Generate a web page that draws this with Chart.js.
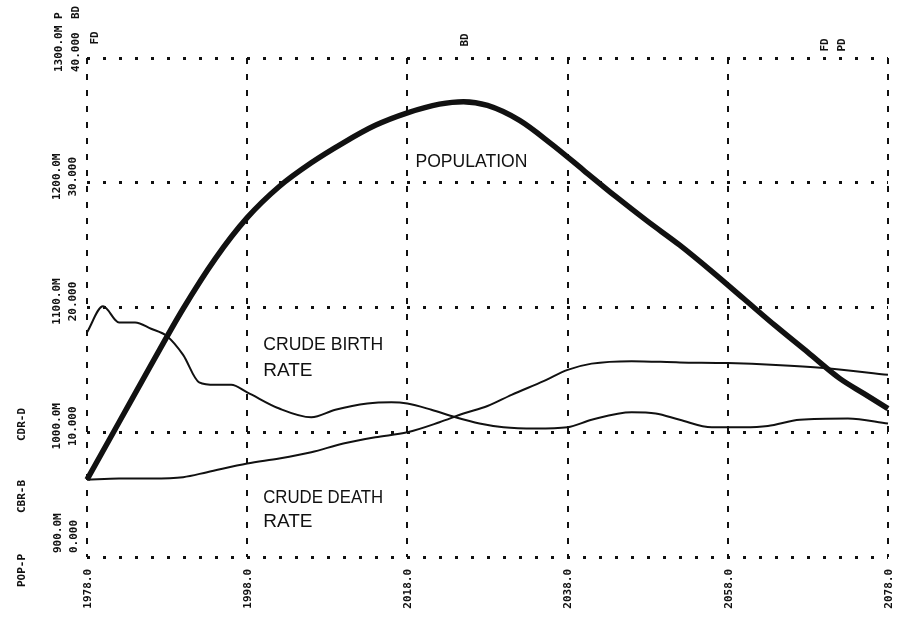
<!DOCTYPE html>
<html>
<head>
<meta charset="utf-8">
<script src="https://cdn.jsdelivr.net/npm/chart.js@4.4.1/dist/chart.umd.min.js"></script>
<style>
  html, body { margin: 0; padding: 0; background: #fff; }
  #wrap { width: 907px; height: 624px; }
</style>
</head>
<body>
<div id="wrap"><canvas id="chart" width="907" height="624"></canvas></div>
<script>
// ticks
const yearTicks = [1978, 1998, 2018, 2038, 2058, 2078];
const popTicks = [900, 1000, 1100, 1200, 1300];
const rateTicks = [0, 10, 20, 30, 40];
const yearLabels = ["1978.0", "1998.0", "2018.0", "2038.0", "2058.0", "2078.0"];
const popLabels = ["900.0M", "1000.0M", "1100.0M", "1200.0M", "1300.0M P"];
const rateLabels = ["0.000", "10.000", "20.000", "30.000", "40.000  BD"];

// population (millions)
const popYears = [1978, 1982, 1986, 1990, 1994, 1998, 2002, 2006, 2010, 2014, 2018, 2022,
    2025, 2028, 2032, 2036, 2040, 2044, 2048, 2052, 2056, 2060, 2064, 2068, 2072, 2075, 2078];
const popValues = [962, 1008, 1054, 1099, 1139, 1172, 1197, 1216, 1232, 1246, 1256, 1263,
    1265, 1262, 1250, 1231, 1210, 1189, 1169, 1150, 1129, 1107, 1085, 1064, 1043, 1031, 1019];

// crude birth rate (per 1000)
const cbrYears = [1978, 1980, 1982, 1984, 1986, 1988, 1990, 1992, 1994, 1996, 1998, 2002,
    2006, 2009, 2013, 2016, 2018, 2021, 2024, 2027, 2030, 2034, 2038, 2041, 2046, 2049,
    2052, 2056, 2060, 2063, 2067, 2073, 2078];
const cbrValues = [18.0, 20.1, 18.8, 18.8, 18.3, 17.7, 16.2, 14.0, 13.8, 13.8, 13.2, 11.9,
    11.2, 11.8, 12.3, 12.4, 12.3, 11.8, 11.2, 10.7, 10.4, 10.3, 10.4, 11.0, 11.6, 11.5,
    11.0, 10.4, 10.4, 10.5, 11.0, 11.1, 10.7];

// crude death rate (per 1000)
const cdrYears = [1978, 1982, 1986, 1990, 1993, 1998, 2002, 2006, 2010, 2014, 2018, 2022,
    2025, 2028, 2031, 2035, 2038, 2041, 2046, 2052, 2058, 2064, 2070, 2078];
const cdrValues = [6.2, 6.3, 6.3, 6.4, 6.8, 7.5, 7.9, 8.4, 9.1, 9.6, 10.0, 10.8,
    11.5, 12.1, 13.0, 14.1, 15.0, 15.5, 15.7, 15.6, 15.55, 15.4, 15.15, 14.6];

// hand-written notes (year, rate value)
const notes = [
    { text: "POPULATION", x: 2019, y: 31.3, w: 112 },
    { text: "CRUDE BIRTH", x: 2000, y: 16.6, w: 120 },
    { text: "RATE", x: 2000, y: 14.5, w: 50 },
    { text: "CRUDE DEATH", x: 2000, y: 4.3, w: 120 },
    { text: "RATE", x: 2000, y: 2.4, w: 50 },
];

const toPoints = (xs, ys) => xs.map((x, i) => ({ x: x, y: ys[i] }));
const ink = "#111";
const mono = "bold 11px 'DejaVu Sans Mono'";

const textPlugin = {
    id: "printerText",
    afterDraw(c) {
        const ctx = c.ctx;
        const sx = c.scales.x, sy = c.scales.y, sr = c.scales.y2;
        ctx.save();
        ctx.fillStyle = ink;
        ctx.font = mono;
        ctx.textBaseline = "middle";

        const vert = (t, x, y, align) => {
            ctx.save();
            ctx.translate(x, y);
            ctx.rotate(-Math.PI / 2);
            ctx.textAlign = align;
            ctx.fillText(t, 0, 0);
            ctx.restore();
        };

        yearTicks.forEach((v, i) => vert(yearLabels[i], sx.getPixelForValue(v) + 1, sy.bottom + 12, "right"));

        popTicks.forEach((v, i) => {
            const py = sy.getPixelForValue(v);
            if (i === 0) vert(popLabels[i], 58, py - 4, "left");
            else if (i === popTicks.length - 1) vert(popLabels[i], 59, py + 14, "left");
            else vert(popLabels[i], 57, py - 6, "center");
        });
        rateTicks.forEach((v, i) => {
            const py = sr.getPixelForValue(v);
            if (i === 0) vert(rateLabels[i], 74, py - 4, "left");
            else if (i === rateTicks.length - 1) vert(rateLabels[i], 76, py + 14, "left");
            else vert(rateLabels[i], 73, py - 6, "center");
        });

        vert("POP-P", 22, sy.bottom + 30, "left");
        vert("CBR-B", 22, sy.bottom - 44, "left");
        vert("CDR-D", 22, sy.bottom - 116, "left");
        vert("FD", sx.left + 8, 38, "center");
        vert("BD", sx.getPixelForValue(2025) + 2, 40, "center");
        vert("FD", sx.getPixelForValue(2070.1), 45, "center");
        vert("PD", sx.getPixelForValue(2072.3), 45, "center");

        ctx.font = "19px 'Liberation Sans'";
        ctx.textAlign = "left";
        ctx.textBaseline = "alphabetic";
        notes.forEach(n => ctx.fillText(n.text, sx.getPixelForValue(n.x), sr.getPixelForValue(n.y), n.w));
        ctx.restore();
    },
};

new Chart(document.getElementById("chart"), {
    type: "line",
    data: {
        datasets: [
            { data: toPoints(popYears, popValues), yAxisID: "y", borderColor: ink, borderWidth: 5.5 },
            { data: toPoints(cbrYears, cbrValues), yAxisID: "y2", borderColor: ink, borderWidth: 2 },
            { data: toPoints(cdrYears, cdrValues), yAxisID: "y2", borderColor: ink, borderWidth: 2 },
        ],
    },
    options: {
        responsive: false,
        animation: false,
        layout: { padding: { left: 87, right: 19, top: 58, bottom: 67 } },
        elements: {
            line: { tension: 0.4, cubicInterpolationMode: "monotone", fill: false },
            point: { radius: 0 },
        },
        datasets: { line: { clip: 8 } },
        scales: {
            x: {
                type: "linear",
                min: 1978,
                max: 2078,
                afterBuildTicks: s => { s.ticks = yearTicks.map(v => ({ value: v })); },
                ticks: { display: false },
                grid: { color: ink, lineWidth: 2, drawTicks: false },
                border: { display: false, dash: [6, 10] },
            },
            y: {
                position: "left",
                min: 900,
                max: 1300,
                afterBuildTicks: s => { s.ticks = popTicks.map(v => ({ value: v })); },
                ticks: { display: false },
                grid: { color: ink, lineWidth: 3, drawTicks: false },
                border: { display: false, dash: [3, 13] },
            },
            y2: { display: false, min: 0, max: 40 },
        },
        plugins: { legend: { display: false }, tooltip: { enabled: false } },
    },
    plugins: [textPlugin],
});
</script>
</body>
</html>
